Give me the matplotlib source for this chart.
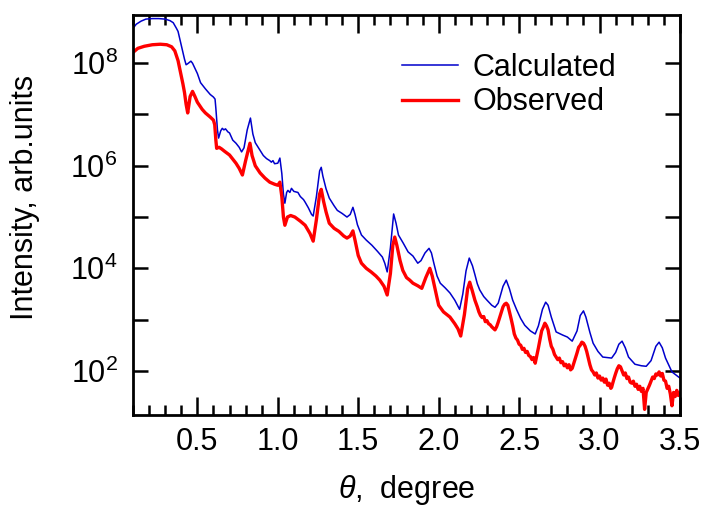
import numpy as np
import matplotlib.pyplot as plt
from matplotlib.ticker import LogLocator, NullLocator, FuncFormatter, MultipleLocator

plt.rcParams['font.family'] = ['Liberation Sans', 'DejaVu Sans']
plt.rcParams['mathtext.fontset'] = 'custom'
plt.rcParams['mathtext.rm'] = 'Liberation Sans'
plt.rcParams['mathtext.it'] = 'Liberation Sans:italic'

# theta (degree) and log10 of intensity, calculated curve
calc_theta = [0.10, 0.12, 0.15, 0.18, 0.22, 0.26, 0.30, 0.33, 0.35, 0.37, 0.38, 0.40, 0.42, 0.43,
              0.44, 0.46, 0.47, 0.485, 0.50, 0.52, 0.55, 0.58, 0.60, 0.61, 0.615, 0.625, 0.632,
              0.645, 0.655, 0.665, 0.675, 0.69, 0.70, 0.72, 0.74, 0.75, 0.76, 0.775, 0.79, 0.81,
              0.83, 0.845, 0.86, 0.89, 0.91, 0.93, 0.95, 0.96, 0.97, 0.98, 1.00, 1.013, 1.025,
              1.035, 1.044, 1.055, 1.063, 1.075, 1.085, 1.10, 1.125, 1.14, 1.16, 1.17, 1.19, 1.21,
              1.22, 1.24, 1.26, 1.27, 1.28, 1.30, 1.32, 1.35, 1.37, 1.40, 1.43, 1.45, 1.467, 1.48,
              1.495, 1.52, 1.55, 1.585, 1.62, 1.65, 1.665, 1.68, 1.70, 1.72, 1.735, 1.75, 1.78,
              1.81, 1.84, 1.87, 1.89, 1.915, 1.94, 1.955, 1.97, 1.99, 2.01, 2.04, 2.07, 2.10, 2.13,
              2.15, 2.17, 2.19, 2.21, 2.225, 2.24, 2.255, 2.28, 2.30, 2.33, 2.35, 2.37, 2.40, 2.42,
              2.44, 2.46, 2.485, 2.51, 2.535, 2.57, 2.60, 2.62, 2.645, 2.665, 2.68, 2.70, 2.73,
              2.77, 2.80, 2.83, 2.86, 2.88, 2.90, 2.915, 2.94, 2.96, 2.99, 3.02, 3.05, 3.075, 3.10,
              3.12, 3.14, 3.16, 3.18, 3.22, 3.26, 3.29, 3.32, 3.35, 3.37, 3.39, 3.41, 3.45, 3.50]
calc_log10 = [8.68, 8.76, 8.82, 8.86, 8.87, 8.87, 8.86, 8.83, 8.79, 8.68, 8.62, 8.35, 8.08, 7.97,
              7.99, 8.04, 8.00, 7.90, 7.80, 7.62, 7.50, 7.39, 7.34, 7.30, 7.12, 6.70, 6.54,
              6.68, 6.73, 6.70, 6.72, 6.66, 6.64, 6.50, 6.44, 6.40, 6.36, 6.27, 6.35, 6.70,
              6.93, 6.62, 6.45, 6.30, 6.20, 6.14, 6.10, 6.07, 6.10, 6.04, 6.05, 6.15, 5.85,
              5.45, 5.27, 5.48, 5.52, 5.48, 5.56, 5.50, 5.48, 5.40, 5.34, 5.29, 5.18, 5.05,
              5.02, 5.40, 5.90, 5.97, 5.80, 5.55, 5.37, 5.22, 5.13, 5.07, 5.00, 5.05, 5.19, 5.05,
              4.85, 4.65, 4.55, 4.45, 4.33, 4.22, 4.10, 3.93, 4.40, 5.06, 4.88, 4.65, 4.49,
              4.32, 4.24, 4.10, 4.15, 4.30, 4.39, 4.30, 4.10, 3.85, 3.71, 3.62, 3.52, 3.38, 3.20,
              3.50, 3.95, 4.20, 4.05, 3.88, 3.70, 3.58, 3.45, 3.38, 3.28, 3.24, 3.32, 3.65, 3.77,
              3.60, 3.38, 3.19, 3.02, 2.89, 2.78, 2.72, 2.88, 3.20, 3.34, 3.28, 3.05, 2.76,
              2.70, 2.66, 2.58, 2.78, 3.08, 3.17, 3.05, 2.75, 2.54, 2.38, 2.27, 2.26, 2.25, 2.36,
              2.52, 2.58, 2.45, 2.27, 2.13, 2.10, 2.09, 2.20, 2.48, 2.56, 2.45, 2.25, 1.98, 1.86]

# theta (degree) and log10 of intensity, observed curve
obs_theta = [0.10, 0.13, 0.17, 0.22, 0.27, 0.31, 0.34, 0.36, 0.38, 0.39, 0.41, 0.42, 0.43, 0.44,
             0.455, 0.47, 0.485, 0.50, 0.53, 0.55, 0.58, 0.60, 0.608, 0.615, 0.62, 0.635, 0.65,
             0.67, 0.70, 0.72, 0.74, 0.76, 0.78, 0.80, 0.827, 0.84, 0.86, 0.89, 0.92, 0.95, 0.98,
             1.00, 1.013, 1.025, 1.035, 1.044, 1.06, 1.08, 1.106, 1.14, 1.17, 1.20, 1.22, 1.24,
             1.26, 1.27, 1.285, 1.30, 1.32, 1.35, 1.38, 1.41, 1.43, 1.45, 1.467, 1.48, 1.50, 1.52,
             1.55, 1.58, 1.61, 1.634, 1.66, 1.68, 1.70, 1.715, 1.727, 1.74, 1.76, 1.777, 1.80,
             1.82, 1.84, 1.87, 1.895, 1.92, 1.945, 1.96, 1.975, 1.99, 2.00, 2.03, 2.07, 2.10,
             2.12, 2.137, 2.16, 2.18, 2.193, 2.21, 2.225, 2.24,
             2.25, 2.26, 2.27, 2.28, 2.29, 2.30, 2.31, 2.32, 2.33, 2.34, 2.35, 2.36, 2.37, 2.38,
             2.39, 2.40, 2.41, 2.42, 2.43, 2.44, 2.45, 2.46, 2.47, 2.48, 2.49, 2.50, 2.51, 2.52,
             2.53, 2.54, 2.55, 2.56, 2.57, 2.58, 2.59, 2.60, 2.61, 2.62, 2.63, 2.64, 2.65, 2.66,
             2.67, 2.68, 2.69, 2.70, 2.71, 2.72, 2.73, 2.74, 2.75, 2.76, 2.77, 2.78, 2.79, 2.80,
             2.81, 2.82, 2.83, 2.84, 2.85, 2.86, 2.87, 2.88, 2.89, 2.90, 2.91, 2.92, 2.93, 2.94,
             2.95, 2.96, 2.97, 2.98, 2.99, 3.00, 3.01, 3.02, 3.03, 3.04, 3.05, 3.06, 3.07, 3.075,
             3.08, 3.09, 3.10, 3.11, 3.12, 3.13, 3.14, 3.15, 3.16, 3.17, 3.18, 3.19, 3.20, 3.21,
             3.22, 3.23, 3.24, 3.25, 3.26, 3.27, 3.28, 3.29, 3.30, 3.31, 3.32, 3.33, 3.34, 3.35,
             3.36, 3.37, 3.38, 3.39, 3.40, 3.41, 3.42, 3.43, 3.44, 3.45, 3.46, 3.47, 3.48, 3.49,
             3.50]
obs_log10 = [8.21, 8.29, 8.33, 8.36, 8.37, 8.36, 8.32, 8.24, 8.05, 7.90, 7.60, 7.43, 7.20, 7.03,
             7.35, 7.45, 7.35, 7.24, 7.10, 7.03, 6.95, 6.89, 6.80, 6.50, 6.34, 6.36, 6.33,
             6.28, 6.21, 6.13, 6.05, 5.95, 5.82, 6.10, 6.44, 6.20, 6.00, 5.86, 5.76, 5.68, 5.64,
             5.62, 5.68, 5.40, 5.00, 4.84, 5.00, 5.03, 5.00, 4.92, 4.84, 4.68, 4.53, 4.95,
             5.45, 5.54, 5.30, 5.10, 4.88, 4.78, 4.72, 4.63, 4.59, 4.63, 4.73, 4.55, 4.25, 4.10,
             4.00, 3.93, 3.85, 3.77, 3.65, 3.48, 3.90, 4.45, 4.61, 4.45, 4.15, 3.96, 3.82,
             3.77, 3.71, 3.66, 3.61, 3.82, 4.00, 3.85, 3.63, 3.42, 3.28, 3.15, 3.05, 2.92,
             2.82, 2.68, 3.10, 3.60, 3.73, 3.55, 3.38, 3.25,
             3.15, 3.08, 3.04, 3.06, 2.96, 2.98, 2.92, 2.90, 2.86, 2.83, 2.80, 2.86, 2.95, 3.05,
             3.15, 3.25, 3.30, 3.32, 3.28, 3.15, 3.02, 2.88, 2.72, 2.64, 2.60, 2.52, 2.50, 2.42,
             2.44, 2.36, 2.38, 2.30, 2.28, 2.22, 2.26, 2.15, 2.30, 2.45, 2.62, 2.78, 2.85, 2.93,
             2.88, 2.80, 2.62, 2.48, 2.42, 2.32, 2.27, 2.22, 2.25, 2.16, 2.18, 2.10, 2.13, 2.06,
             2.12, 2.02, 2.05, 2.15, 2.25, 2.35, 2.46, 2.50, 2.56, 2.54, 2.48, 2.38, 2.25, 2.12,
             2.02, 1.98, 1.92, 1.96, 1.86, 1.90, 1.82, 1.86, 1.78, 1.84, 1.72, 1.76, 1.66, 1.68,
             1.74, 1.85, 1.95, 2.04, 2.10, 2.08, 2.00, 1.92, 1.96, 1.85, 1.88, 1.78, 1.76, 1.80,
             1.70, 1.74, 1.64, 1.70, 1.60, 1.66, 1.25, 1.58, 1.65, 1.72, 1.80, 1.88, 1.85, 1.94,
             1.92, 1.98, 1.90, 1.95, 1.82, 1.80, 1.66, 1.70, 1.55, 1.32, 1.58, 1.50, 1.62, 1.52,
             1.56]

calc = 10 ** np.array(calc_log10)
obs = 10 ** np.array(obs_log10)

fig = plt.figure(figsize=(7.04, 5.08), dpi=100)
ax = fig.add_axes([133 / 704, 93 / 508, 547 / 704, 400 / 508])

ax.plot(calc_theta, calc, color='#0000cc', lw=1.1, label='Calculated')
ax.plot(obs_theta, obs, color='#ff0000', lw=2.4, label='Observed')

ax.set_yscale('log')
ax.set_xlim(0.1, 3.5)
ax.set_ylim(10 ** 1.14, 10 ** 8.94)

# axis ticks
ax.xaxis.set_major_locator(MultipleLocator(0.5))
ax.xaxis.set_minor_locator(MultipleLocator(0.1))
ax.xaxis.set_major_formatter(FuncFormatter(lambda v, p: f'{v:.1f}'))
ax.yaxis.set_major_locator(LogLocator(base=10, numticks=20))
ax.yaxis.set_minor_locator(NullLocator())


def ylab(v, p):
    e = int(round(np.log10(v)))
    return f'$10^{{{e}}}$' if e % 2 == 0 else ''


ax.yaxis.set_major_formatter(FuncFormatter(ylab))
ax.tick_params(axis='both', which='both', direction='in', top=True, right=True,
               width=1.8, labelsize=22)
ax.tick_params(axis='x', which='major', length=13, pad=9)
ax.tick_params(axis='x', which='minor', length=7)
ax.tick_params(axis='y', which='major', length=10.8, pad=11)
for s in ax.spines.values():
    s.set_linewidth(2)

ax.set_xlabel(r'$\theta$,  degree', fontsize=22)
ax.set_ylabel('Intensity, arb.units', fontsize=22)
ax.yaxis.set_label_coords(-0.17, 0.545)
ax.xaxis.set_label_coords(0.5, -0.145)

ax.legend(loc='upper left', bbox_to_anchor=(0.492, 0.905), frameon=False, fontsize=22,
          borderpad=0, borderaxespad=0, handlelength=1.83, handletextpad=0.46,
          labelspacing=0.14)

fig.savefig('out.png', dpi=100)
